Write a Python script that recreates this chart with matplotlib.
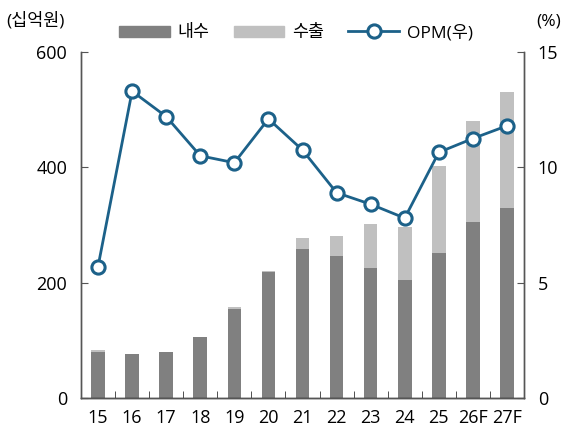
import matplotlib.pyplot as plt
from matplotlib.lines import Line2D
from matplotlib.patches import Patch
import numpy as np

plt.rcParams['font.family'] = ['Open Sans', 'Noto Sans CJK KR', 'DejaVu Sans']

# ----------------------------------------------------------------------
# Data
# ----------------------------------------------------------------------
years = ['15', '16', '17', '18', '19', '20', '21', '22', '23', '24', '25', '26F', '27F']
domestic = [80, 76, 79, 105, 155, 218, 259, 246, 225, 205, 252, 305, 329]
export = [3, 1, 1, 1, 3, 3, 19, 35, 77, 92, 150, 175, 202]
opm = [5.7, 13.3, 12.2, 10.5, 10.2, 12.1, 10.75, 8.9, 8.4, 7.8, 10.65, 11.25, 11.8]

c_dom = '#808080'
c_exp = '#c0c0c0'
c_line = '#1c6189'

fig = plt.figure(figsize=(5.67, 4.34), dpi=100)
ax = fig.add_axes([81 / 567, 1 - 398 / 434, 443 / 567, 346 / 434])
ax2 = ax.twinx()

x = np.arange(len(years))
ax.bar(x, domestic, width=0.4, color=c_dom, zorder=2)
ax.bar(x, export, width=0.4, bottom=domestic, color=c_exp, zorder=2)

ax2.plot(x, opm, color=c_line, lw=2.0, marker='o', markersize=9.5,
         markerfacecolor='white', markeredgecolor=c_line, markeredgewidth=2.2)

ax.set_xlim(-0.5, len(years) - 0.5)
ax.set_ylim(0, 600)
ax2.set_ylim(0, 15)
ax.set_yticks([0, 200, 400, 600])
ax2.set_yticks([0, 5, 10, 15])

ax.set_xticks(x)
ax.set_xticklabels(years)
ax.set_xticks(np.arange(len(years) - 1) + 0.5, minor=True)
ax.tick_params(axis='x', which='major', length=0, labelsize=13, pad=8)
ax.tick_params(axis='x', which='minor', direction='in', length=5, color='#333333')
ax.tick_params(axis='y', direction='in', length=5, labelsize=13, pad=10, color='#555555')
ax2.tick_params(axis='y', direction='in', length=5, labelsize=13, pad=10, color='#555555')

for a in (ax, ax2):
    a.spines['top'].set_visible(False)
    for s in ('left', 'right', 'bottom'):
        a.spines[s].set_color('#555555')
        a.spines[s].set_linewidth(1.0)
ax.spines['bottom'].set_color('#222222')

fig.text(6 / 567, 1 - 21 / 434, '(십억원)', fontsize=12.5, va='center', ha='left')
fig.text(561 / 567, 1 - 21 / 434, '(%)', fontsize=12.5, va='center', ha='right')

handles = [Patch(color=c_dom), Patch(color=c_exp),
           Line2D([], [], color=c_line, lw=2.0, marker='o', markersize=9.5,
                  markerfacecolor='white', markeredgewidth=2.2)]
fig.legend(handles, ['내수', '수출', 'OPM(우)'], loc='center', ncol=3,
           bbox_to_anchor=(296 / 567, 1 - 33 / 434), frameon=False, fontsize=12.5,
           handlelength=2.9, handleheight=0.6, columnspacing=1.4, handletextpad=0.45)

fig.savefig('out.png', dpi=100)
